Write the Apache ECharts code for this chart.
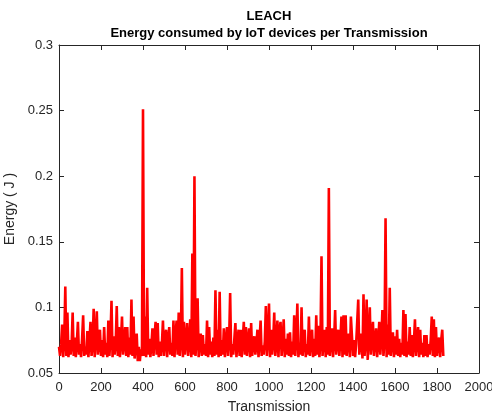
<!DOCTYPE html>
<html>
<head>
<meta charset="utf-8">
<script src="https://cdn.jsdelivr.net/npm/echarts@6/dist/echarts.min.js"></script>
<style>html,body{margin:0;padding:0;background:#fff}#c{width:492px;height:415px}</style>
</head>
<body>
<div id="c"></div>
<script>
const titleLines = ['LEACH', 'Energy consumed by IoT devices per Transmission'];
const xLabel = 'Transmission';
const yLabel = 'Energy ( J )';
const xTicks = [0, 200, 400, 600, 800, 1000, 1200, 1400, 1600, 1800, 2000];
const yTicks = [0.05, 0.1, 0.15, 0.2, 0.25, 0.3];
const transmissionStep = 5; // sampling of the transmission index (0, 5, 10, ... 1830)
// Energy per transmission (one row = 100 transmissions)
const energy = [
  0.070,0.063,0.072,0.087,0.062,0.074,0.116,0.063,0.096,0.062,0.075,0.064,0.071,0.096,0.063,0.077,0.062,0.073,0.089,0.064,
  0.072,0.062,0.076,0.094,0.063,0.070,0.064,0.082,0.062,0.074,0.089,0.063,0.071,0.099,0.062,0.076,0.097,0.064,0.072,0.083,
  0.063,0.075,0.062,0.085,0.064,0.073,0.062,0.090,0.063,0.076,0.105,0.062,0.078,0.064,0.072,0.101,0.063,0.085,0.062,0.074,
  0.093,0.064,0.073,0.085,0.063,0.085,0.062,0.077,0.064,0.106,0.063,0.093,0.061,0.072,0.080,0.059,0.070,0.059,0.068,0.063,
  0.251,0.063,0.093,0.062,0.115,0.064,0.076,0.062,0.071,0.084,0.063,0.078,0.089,0.064,0.088,0.062,0.074,0.063,0.072,0.090,
  0.063,0.077,0.083,0.062,0.075,0.085,0.064,0.073,0.063,0.090,0.062,0.079,0.090,0.064,0.096,0.063,0.074,0.130,0.062,0.089,
  0.064,0.075,0.088,0.063,0.073,0.091,0.062,0.141,0.064,0.200,0.063,0.076,0.107,0.062,0.074,0.080,0.063,0.079,0.064,0.072,
  0.063,0.090,0.062,0.085,0.064,0.074,0.062,0.077,0.063,0.113,0.064,0.083,0.062,0.112,0.063,0.075,0.064,0.084,0.062,0.073,
  0.085,0.063,0.074,0.111,0.062,0.072,0.064,0.076,0.088,0.062,0.074,0.083,0.063,0.083,0.062,0.075,0.089,0.064,0.085,0.063,
  0.074,0.084,0.062,0.088,0.063,0.073,0.078,0.064,0.072,0.083,0.062,0.075,0.090,0.063,0.071,0.064,0.074,0.101,0.063,0.076,
  0.103,0.062,0.083,0.064,0.074,0.096,0.063,0.072,0.090,0.062,0.083,0.089,0.063,0.074,0.091,0.062,0.076,0.064,0.080,0.063,
  0.081,0.062,0.074,0.064,0.094,0.063,0.076,0.103,0.062,0.073,0.064,0.100,0.063,0.075,0.083,0.062,0.072,0.064,0.093,0.063,
  0.074,0.083,0.062,0.076,0.063,0.094,0.064,0.086,0.062,0.073,0.139,0.063,0.075,0.083,0.062,0.085,0.064,0.191,0.063,0.074,
  0.084,0.062,0.075,0.098,0.064,0.073,0.083,0.063,0.076,0.093,0.062,0.094,0.064,0.094,0.063,0.074,0.080,0.062,0.093,0.093,
  0.063,0.075,0.062,0.072,0.089,0.106,0.064,0.076,0.080,0.061,0.110,0.063,0.074,0.106,0.060,0.077,0.100,0.064,0.075,0.089,
  0.063,0.074,0.084,0.062,0.073,0.089,0.064,0.076,0.098,0.063,0.075,0.168,0.062,0.087,0.064,0.115,0.063,0.074,0.081,0.062,
  0.078,0.064,0.083,0.063,0.076,0.062,0.073,0.064,0.098,0.063,0.095,0.062,0.074,0.064,0.085,0.063,0.079,0.062,0.073,0.091,
  0.063,0.074,0.085,0.062,0.083,0.064,0.073,0.062,0.079,0.063,0.079,0.062,0.072,0.064,0.075,0.093,0.063,0.091,0.062,0.085,
  0.063,0.074,0.077,0.062,0.075,0.083,0.063
];

const points = energy.map((v, i) => [i * transmissionStep, v]);
const axisColor = '#262626';
const fontFam = '"Liberation Sans", Arial, sans-serif';

const chart = echarts.init(document.getElementById('c'), null, {renderer: 'canvas'});
const baseAxis = {
  axisLine: {show: true, onZero: false, lineStyle: {color: axisColor, width: 1}},
  axisTick: {show: true, inside: true, length: 5, lineStyle: {color: axisColor, width: 1}},
  splitLine: {show: false}
};
chart.setOption({
  animation: false,
  backgroundColor: '#fff',
  grid: {left: 59, right: 13, top: 45, bottom: 42, containLabel: false, outerBoundsMode: 'none'},
  graphic: [
    {type: 'text', x: 269, y: 16, style: {text: titleLines[0], fill: '#000', font: 'bold 13px ' + fontFam, textAlign: 'center', textVerticalAlign: 'middle'}},
    {type: 'text', x: 269, y: 33, style: {text: titleLines[1], fill: '#000', font: 'bold 13px ' + fontFam, textAlign: 'center', textVerticalAlign: 'middle'}}
  ],
  xAxis: [
    Object.assign({}, baseAxis, {
      type: 'value', position: 'bottom', min: xTicks[0], max: xTicks[xTicks.length - 1], interval: xTicks[1] - xTicks[0],
      name: xLabel, nameLocation: 'middle', nameGap: 27,
      nameTextStyle: {color: axisColor, fontSize: 14, fontFamily: fontFam},
      axisLabel: {color: axisColor, fontSize: 13, fontFamily: fontFam, margin: 8, formatter: v => String(v)}
    }),
    Object.assign({}, baseAxis, {
      type: 'value', position: 'top', min: xTicks[0], max: xTicks[xTicks.length - 1], interval: xTicks[1] - xTicks[0],
      axisLabel: {show: false}
    })
  ],
  yAxis: [
    Object.assign({}, baseAxis, {
      type: 'value', position: 'left', min: yTicks[0], max: yTicks[yTicks.length - 1], interval: 0.05,
      name: yLabel, nameLocation: 'middle', nameGap: 36,
      nameTextStyle: {color: axisColor, fontSize: 14, fontFamily: fontFam},
      axisLabel: {color: axisColor, fontSize: 13, fontFamily: fontFam, margin: 6,
        formatter: v => String(parseFloat(v.toFixed(4)))}
    }),
    Object.assign({}, baseAxis, {
      type: 'value', position: 'right', min: yTicks[0], max: yTicks[yTicks.length - 1], interval: 0.05,
      axisLabel: {show: false}
    })
  ],
  series: [{
    type: 'line',
    data: points,
    xAxisIndex: 0, yAxisIndex: 0,
    showSymbol: false, symbol: 'none',
    lineStyle: {color: '#ff0000', width: 2.6},
    itemStyle: {color: '#ff0000'},
    sampling: null
  }]
});
</script>
</body>
</html>
